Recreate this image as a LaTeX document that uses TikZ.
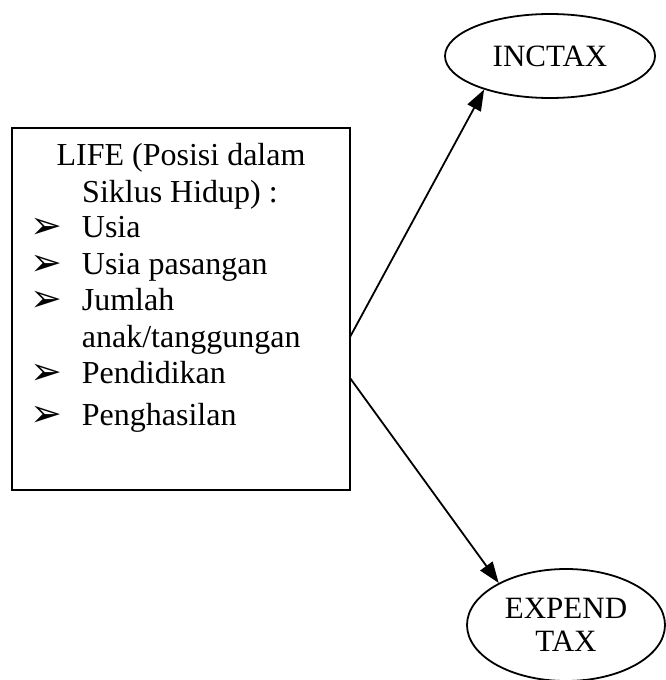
\documentclass[tikz,border=0pt]{standalone}
\usepackage{fontspec}
\setmainfont{Liberation Serif}
\newfontfamily\symfont{DejaVu Sans}
\usetikzlibrary{shapes.geometric,arrows.meta}
\begin{document}
\begin{tikzpicture}[x=1pt,y=-1pt,
  line width=1.8pt,
  txt/.style={font=\fontsize{32}{38}\selectfont,inner sep=0pt,anchor=base west},
  ctxt/.style={font=\fontsize{32}{38}\selectfont,inner sep=0pt,anchor=base},
  bul/.style={font=\symfont\fontsize{38}{40}\selectfont,inner sep=0pt,anchor=base west},
  oval/.style={draw,ellipse,inner sep=0pt,font=\fontsize{31}{33}\selectfont,align=center},
  arr/.style={-{Triangle[length=21pt,width=15pt]},line width=1.8pt}]
\useasboundingbox (0,0) rectangle (666,680);
% box
\node[draw,minimum width=338pt,minimum height=362pt,inner sep=0pt] (life) at (181,309) {};
\node[ctxt] (l1) at (181,165) {LIFE (Posisi dalam};
\node[ctxt] (l2) at (180,202) {Siklus Hidup) :};
\node[bul] (b1) at (30,238) {➢};
\node[txt] (t1) at (81,237) {Usia};
\node[bul] (b2) at (30,275) {➢};
\node[txt] (t2) at (81,274) {Usia pasangan};
\node[bul] (b3) at (30,311) {➢};
\node[txt] (t3) at (81,310) {Jumlah};
\node[txt] (t3b) at (81,347) {anak/tanggungan};
\node[bul] (b4) at (30,384) {➢};
\node[txt] (t4) at (81,383) {Pendidikan};
\node[bul] (b5) at (30,426) {➢};
\node[txt] (t5) at (81,425) {Penghasilan};
% ellipses
\node[oval,minimum width=210pt,minimum height=84pt] (inc) at (550,56) {INCTAX};
\node[oval,minimum width=198pt,minimum height=112pt] (exp) at (566,625) {EXPEND\\TAX};
% connectors
\coordinate (s1) at (350,337);
\coordinate (s2) at (350,378);
\draw[arr] (s1) -- (inc.207);
\draw[arr] (s2) -- (exp.148);
\end{tikzpicture}
\end{document}
